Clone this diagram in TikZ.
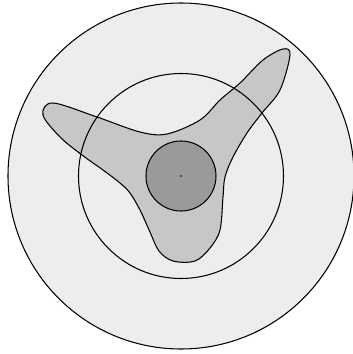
\documentclass[tikz,border=0pt]{standalone}
\usepackage{xcolor}
\usepackage{tikz}
\usetikzlibrary{calc}

\definecolor{outergray}{HTML}{ECEDED}
\definecolor{blobgray}{HTML}{C6C7C7}
\definecolor{coregray}{HTML}{9A9A9A}

\begin{document}
\begin{tikzpicture}[
  scale=0.03,
  ring/.style={draw=black, line width=0.9pt},
  blob/.style={draw=black, line width=0.9pt, fill=blobgray}
]

\useasboundingbox (-181,-178) rectangle (171,176);

\coordinate (c) at (0,0);

% outer disc
\draw[ring, fill=outergray] (c) circle (173);

% three-armed body
\draw[blob] plot[smooth cycle, tension=0.55] coordinates {
  (-138,61) (-128,73) (-84,59) (-41,44) (-14,42) (19,56) (39,76)
  (59,93) (82,116) (102,127) (109,121) (99,86) (81,63) (66,43)
  (52,19) (44,-1) (42,-21) (39,-54) (29,-72) (14,-85) (-8,-85)
  (-22,-75) (-31,-56) (-41,-34) (-51,-17) (-61,-7) (-78,6) (-99,21)
  (-121,39)
};

% middle ring
\draw[ring] (c) circle (102.5);

% core
\draw[ring, fill=coregray] (c) circle (35);
\fill[black] (c) circle (0.9);

\end{tikzpicture}
\end{document}
